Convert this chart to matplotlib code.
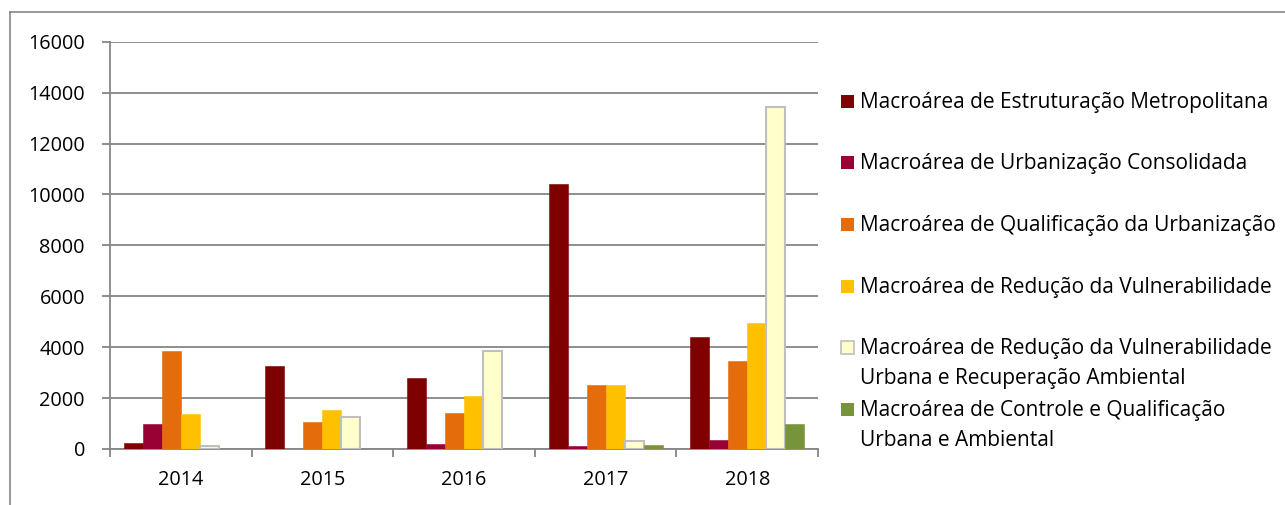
import matplotlib
matplotlib.use('Agg')
import matplotlib.pyplot as plt
from matplotlib.patches import Rectangle
from matplotlib.lines import Line2D
import numpy as np

plt.rcParams['font.family'] = ['Open Sans', 'DejaVu Sans']

anos = ['2014', '2015', '2016', '2017', '2018']
series = [
    'Macroárea de Estruturação Metropolitana',
    'Macroárea de Urbanização Consolidada',
    'Macroárea de Qualificação da Urbanização',
    'Macroárea de Redução da Vulnerabilidade',
    'Macroárea de Redução da Vulnerabilidade\nUrbana e Recuperação Ambiental',
    'Macroárea de Controle e Qualificação\nUrbana e Ambiental',
]
estruturacao = [230, 3270, 2800, 10410, 4400]
consolidada = [1000, 0, 210, 120, 370]
qualificacao = [3850, 1070, 1410, 2520, 3470]
vulnerabilidade = [1380, 1520, 2100, 2520, 4960]
recuperacao = [100, 1270, 3850, 330, 13450]
controle = [0, 0, 0, 150, 1000]
valores = [estruturacao, consolidada, qualificacao, vulnerabilidade, recuperacao, controle]

cores = ['#7F0000', '#990033', '#E46C0A', '#FFC000', '#FFFFCC', '#77933C']
bordas = ['#7F0000', '#990033', '#E46C0A', '#FFC000', '#BFBFBF', '#77933C']

W, H = 1285, 505
fig = plt.figure(figsize=(W / 100, H / 100), dpi=100)
ax = fig.add_axes([110 / W, 1 - 449 / H, (818 - 110) / W, (449 - 41.7) / H])

x = np.arange(len(anos))
largura = 0.134
for i, (vals, cor, borda) in enumerate(zip(valores, cores, bordas)):
    pos = x - 3 * largura + (i + 0.5) * largura
    lw = 1.5 if i == 4 else 0.4
    ax.bar(pos, vals, width=largura, color=cor, edgecolor=borda, linewidth=lw, zorder=3)

cinza = '#868686'
ax.set_xlim(-0.5, len(anos) - 0.5)
ax.set_ylim(0, 16000)
ax.set_yticks(range(0, 16001, 2000))
ax.yaxis.grid(True, color=cinza, linewidth=1.3, zorder=0)
ax.set_xticks(x)
ax.set_xticklabels(anos)
ax.set_xticks(np.arange(-0.5, len(anos)), minor=True)
ax.tick_params(axis='x', which='major', length=0, pad=15, labelsize=14.3)
ax.tick_params(axis='x', which='minor', length=6, width=1.3, color=cinza, direction='out')
ax.tick_params(axis='y', length=6, width=1.3, color=cinza, pad=12, labelsize=14.3)
for lado in ['top', 'right']:
    ax.spines[lado].set_visible(False)
for lado in ['left', 'bottom']:
    ax.spines[lado].set_color(cinza)
    ax.spines[lado].set_linewidth(1.3)

# legenda montada à mão, à direita do gráfico (linhas de base em pixels)
bases = [107.7, 169.3, 231, 292.7, 354, 416]
entrelinha = 29.7
for cor, borda, nome, yb in zip(cores, bordas, series, bases):
    fig.add_artist(Rectangle((841 / W, 1 - yb / H), 13 / W, 13 / H,
                             transform=fig.transFigure, facecolor=cor,
                             edgecolor=borda, linewidth=1.2 if cor == '#FFFFCC' else 0))
    for k, linha in enumerate(nome.split('\n')):
        fig.text(860 / W, 1 - (yb + k * entrelinha) / H, linha, ha='left',
                 va='baseline', fontsize=15)

# moldura externa
fig.add_artist(Line2D([10 / W, 10 / W], [0, 1 - 12 / H], transform=fig.transFigure,
                      color=cinza, linewidth=1.2))
fig.add_artist(Line2D([10 / W, 1], [1 - 12 / H, 1 - 12 / H], transform=fig.transFigure,
                      color=cinza, linewidth=1.2))

fig.savefig('out.png', dpi=100)
plt.close(fig)
